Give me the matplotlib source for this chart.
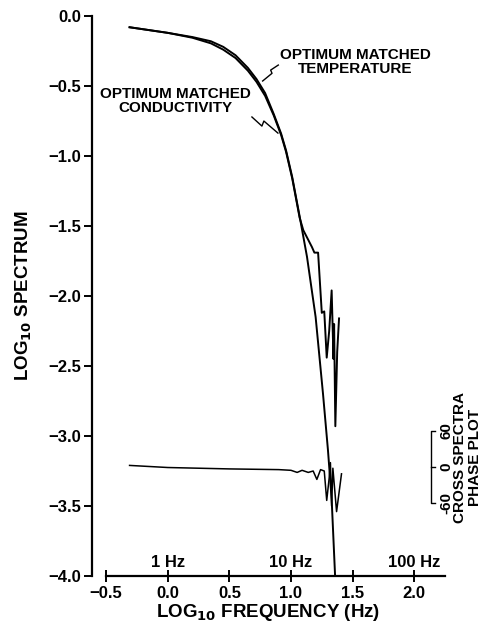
import numpy as np
import matplotlib.pyplot as plt

plt.rcParams['font.family'] = ['Liberation Sans', 'DejaVu Sans']
plt.rcParams['font.weight'] = 'bold'

# log10 frequency (Hz) vs log10 spectrum
temp_x = [-0.31, 0.0, 0.20, 0.35, 0.45, 0.55, 0.65, 0.72, 0.79, 0.86, 0.92,
          0.96, 1.01, 1.07, 1.13, 1.20, 1.26, 1.30, 1.33, 1.358]
temp_y = [-0.08, -0.12, -0.15, -0.18, -0.22, -0.28, -0.37, -0.45, -0.55, -0.70,
          -0.84, -0.96, -1.15, -1.43, -1.72, -2.15, -2.70, -3.10, -3.45, -4.0]

cond_x = [-0.31, 0.0, 0.20, 0.35, 0.45, 0.55, 0.65, 0.72, 0.79, 0.86, 0.92,
          0.96, 1.01, 1.07, 1.10, 1.17, 1.19, 1.22, 1.25, 1.27, 1.29, 1.31,
          1.33, 1.345, 1.35, 1.36, 1.375, 1.39]
cond_y = [-0.08, -0.12, -0.155, -0.195, -0.24, -0.30, -0.39, -0.47, -0.57,
          -0.71, -0.85, -0.97, -1.16, -1.44, -1.53, -1.65, -1.69, -1.69, -2.12,
          -2.11, -2.44, -2.25, -1.96, -2.45, -2.20, -2.93, -2.40, -2.16]

# cross spectra phase, drawn in spectrum units around a -3.22 baseline
phase_x = [-0.31, 0.0, 0.5, 0.9, 1.0, 1.05, 1.09, 1.14, 1.18, 1.21, 1.24, 1.27,
           1.29, 1.31, 1.32, 1.33, 1.34, 1.37, 1.41]
phase_y = [-3.21, -3.225, -3.235, -3.24, -3.245, -3.26, -3.245, -3.26, -3.25,
           -3.31, -3.24, -3.25, -3.46, -3.30, -3.19, -3.50, -3.23, -3.54, -3.27]
phase_base = -3.22
phase_scale = 0.257 / 60.0   # spectrum units per degree

xticks = [-0.5, 0.0, 0.5, 1.0, 1.5, 2.0]
yticks = [0.0, -0.5, -1.0, -1.5, -2.0, -2.5, -3.0, -3.5, -4.0]
hz_pos = [0.0, 1.0, 2.0]
hz_labels = ['1 Hz', '10 Hz', '100 Hz']
phase_ticks = [60, 0, -60]

fig = plt.figure(figsize=(5, 6.32), dpi=100)
ax = fig.add_axes([0.184, 0.0886, 0.706, 0.886])

lw = 1.4
ax.plot(temp_x, temp_y, color='black', lw=lw)
ax.plot(cond_x, cond_y, color='black', lw=lw)
ax.plot(phase_x, phase_y, color='black', lw=1.1)

ax.set_xlim(-0.615, 2.25)
ax.set_ylim(-4.0, 0.0)
for s in ['top', 'right']:
    ax.spines[s].set_visible(False)
ax.spines['bottom'].set_bounds(-0.5, 2.25)
ax.spines['left'].set_linewidth(1.6)
ax.spines['bottom'].set_linewidth(1.6)

ax.set_xticks(xticks)
ax.set_xticklabels([f'{v:.1f}'.replace('-', '\u2212') for v in xticks])
ax.set_yticks(yticks)
ax.set_yticklabels([f'{v:.1f}'.replace('-', '\u2212') for v in yticks])
ax.tick_params(axis='x', direction='inout', length=8, width=1.4, labelsize=12, pad=3)
ax.tick_params(axis='y', direction='out', length=6, width=1.4, labelsize=12, pad=2)
for lab in ax.get_xticklabels() + ax.get_yticklabels():
    lab.set_fontweight('bold')

ax.set_xlabel('LOG$_{\\mathbf{10}}$ FREQUENCY (Hz)', fontsize=13.5, fontweight='bold', labelpad=1)
ax.set_ylabel('LOG$_{\\mathbf{10}}$ SPECTRUM', fontsize=13.5, fontweight='bold', labelpad=10)

for xp, t in zip(hz_pos, hz_labels):
    ax.text(xp, -3.9, t, ha='center', va='center', fontsize=12, fontweight='bold')

# curve labels with zigzag leaders
ax.text(1.52, -0.33, 'OPTIMUM MATCHED\nTEMPERATURE', ha='center', va='center',
        fontsize=11, fontweight='bold', linespacing=1.0)
ax.plot([0.897, 0.835, 0.846, 0.770], [-0.35, -0.386, -0.409, -0.464],
        color='black', lw=1.0)
ax.text(0.065, -0.61, 'OPTIMUM MATCHED\nCONDUCTIVITY', ha='center', va='center',
        fontsize=11, fontweight='bold', linespacing=1.0)
ax.plot([0.683, 0.764, 0.780, 0.894], [-0.721, -0.786, -0.75, -0.836],
        color='black', lw=1.0)

# phase scale bracket on the right
bx = 2.14
top = phase_base + phase_scale * 60
bot = phase_base - phase_scale * 60
ax.plot([bx + 0.025, bx, bx, bx + 0.025], [top, top, bot, bot], color='black',
        lw=1.0, clip_on=False)
ax.plot([bx, bx + 0.025], [phase_base, phase_base], color='black', lw=1.0,
        clip_on=False)
for p in phase_ticks:
    ax.text(bx + 0.125, phase_base + phase_scale * p, str(p), rotation=90,
            ha='center', va='center', fontsize=11, fontweight='bold',
            clip_on=False)
ax.text(2.43, -3.15, 'CROSS SPECTRA\nPHASE PLOT', rotation=90, ha='center',
        va='center', fontsize=11, fontweight='bold', linespacing=1.1,
        clip_on=False)

fig.savefig('out.png', dpi=100)
